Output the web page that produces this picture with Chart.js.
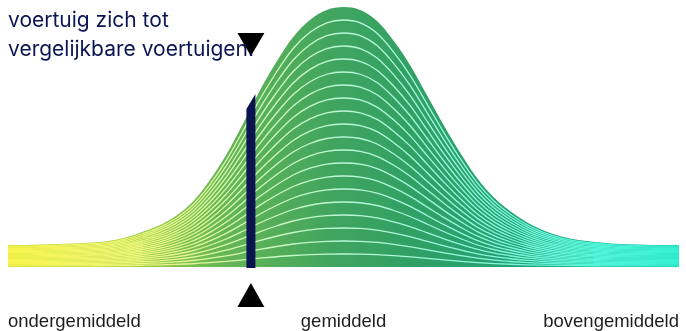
<!DOCTYPE html>
<html>
<head>
<meta charset="utf-8">
<script src="https://cdn.jsdelivr.net/npm/chart.js@4.4.1/dist/chart.umd.min.js"></script>
<style>
  html, body { margin: 0; padding: 0; background: #fff; }
  #wrap { position: relative; width: 686px; height: 331px; }
  #intro {
    position: absolute; left: 8px; top: 5px;
    font-family: Inter, "Noto Sans", sans-serif; font-size: 21px; line-height: 29px;
    color: #0b1553; white-space: nowrap;
  }
</style>
</head>
<body>
<div id="wrap">
  <canvas id="bellChart" width="686" height="331"></canvas>
  <div id="intro">voertuig zich tot<br>vergelijkbare voertuigen.</div>
</div>
<script>
// Verdeling (0 = ondergemiddeld, 50 = gemiddeld, 100 = bovengemiddeld)
var positions = [0, 2.5, 5, 7.5, 10, 12.5, 15, 17.5, 20, 22.5, 25, 27.5, 30, 32.5, 35, 37.5, 40, 42.5, 45, 47.5,
                 50, 52.5, 55, 57.5, 60, 62.5, 65, 67.5, 70, 72.5, 75, 77.5, 80, 82.5, 85, 87.5, 90, 92.5, 95, 97.5, 100];
var heights   = [22, 22, 22.5, 23, 23.5, 24.5, 26, 29.5, 35, 41.5, 51, 65, 86, 112, 143, 176, 205, 230, 247, 257,
                 260, 257, 246, 226, 201, 171, 141, 113, 88, 69, 55, 44, 36, 30.5, 27, 25, 23.5, 22.8, 22.3, 22, 22];
var tickLabels = ['ondergemiddeld', 'gemiddeld', 'bovengemiddeld'];
var tickValues = [0, 50, 100];

// Positie van dit voertuig
var markerPos = 36.2;
var markerTop = [158, 173];

var lineCount = 20;

function curvePoints(scale) {
    return positions.map(function (p, i) {
        return { x: p, y: heights[i] * scale };
    });
}

function fillGradient(context) {
    var chart = context.chart;
    var area = chart.chartArea;
    if (!area) return '#3fa562';
    var g = chart.ctx.createLinearGradient(area.left, 0, area.right, 0);
    g.addColorStop(0, '#c0d636');
    g.addColorStop(0.18, '#a2ce44');
    g.addColorStop(0.32, '#66b655');
    g.addColorStop(0.48, '#41a55f');
    g.addColorStop(0.6, '#31a065');
    g.addColorStop(0.75, '#22a275');
    g.addColorStop(0.88, '#16b592');
    g.addColorStop(1, '#0fc2a4');
    return g;
}

function lineGradient(context) {
    var chart = context.chart;
    var area = chart.chartArea;
    if (!area) return '#c8f0c0';
    var g = chart.ctx.createLinearGradient(area.left, 0, area.right, 0);
    g.addColorStop(0, '#f8f44c');
    g.addColorStop(0.2, '#ecf67c');
    g.addColorStop(0.35, '#d4f8b8');
    g.addColorStop(0.5, '#bcf8d4');
    g.addColorStop(0.7, '#8ef6dc');
    g.addColorStop(0.88, '#52f4d8');
    g.addColorStop(1, '#36f0d4');
    return g;
}

var datasets = [{
    data: curvePoints(1),
    fill: 'origin',
    backgroundColor: fillGradient,
    borderWidth: 0,
    pointRadius: 0,
    cubicInterpolationMode: 'monotone',
    order: 10
}];
for (var i = 1; i < lineCount; i++) {
    datasets.push({
        data: curvePoints(i / lineCount),
        fill: false,
        borderColor: lineGradient,
        borderWidth: 1.3,
        pointRadius: 0,
        cubicInterpolationMode: 'monotone',
        order: 1
    });
}

// Markering: balk + driehoeken
var markerPlugin = {
    id: 'marker',
    afterDatasetsDraw: function (chart) {
        var ctx = chart.ctx;
        var x = chart.scales.x.getPixelForValue(markerPos);
        var y = chart.scales.y;
        var base = y.getPixelForValue(0);
        var half = 4.5;
        ctx.save();
        ctx.fillStyle = '#0b1450';
        ctx.beginPath();
        ctx.moveTo(x - half, base + 1);
        ctx.lineTo(x - half, y.getPixelForValue(markerTop[0]));
        ctx.lineTo(x + half, y.getPixelForValue(markerTop[1]));
        ctx.lineTo(x + half, base + 1);
        ctx.closePath();
        ctx.fill();

        ctx.fillStyle = '#000';
        ctx.beginPath();
        ctx.moveTo(x - 13.5, 33);
        ctx.lineTo(x + 13.5, 33);
        ctx.lineTo(x, 56);
        ctx.closePath();
        ctx.fill();

        ctx.beginPath();
        ctx.moveTo(x - 13.5, 307);
        ctx.lineTo(x + 13.5, 307);
        ctx.lineTo(x, 283);
        ctx.closePath();
        ctx.fill();
        ctx.restore();
    }
};

var ctx = document.getElementById('bellChart').getContext('2d');
var bellChart = new Chart(ctx, {
    type: 'line',
    data: { datasets: datasets },
    options: {
        responsive: false,
        animation: false,
        layout: { padding: { left: 8, right: 7, top: 7, bottom: 0 } },
        plugins: { legend: { display: false }, tooltip: { enabled: false } },
        scales: {
            x: {
                type: 'linear',
                min: 0,
                max: 100,
                grid: { display: false },
                border: { display: false },
                afterBuildTicks: function (axis) {
                    axis.ticks = tickValues.map(function (v) { return { value: v }; });
                },
                afterFit: function (axis) {
                    axis.height = 64;
                    axis.paddingLeft = 0;
                    axis.paddingRight = 0;
                },
                ticks: {
                    align: 'inner',
                    maxRotation: 0,
                    padding: 35.5,
                    color: '#1e1e1e',
                    font: { family: '"Liberation Sans", Arial, sans-serif', size: 18.5 },
                    callback: function (value) {
                        return tickLabels[tickValues.indexOf(value)];
                    }
                }
            },
            y: {
                display: false,
                min: 0,
                max: 260
            }
        }
    },
    plugins: [markerPlugin]
});
</script>
</body>
</html>
